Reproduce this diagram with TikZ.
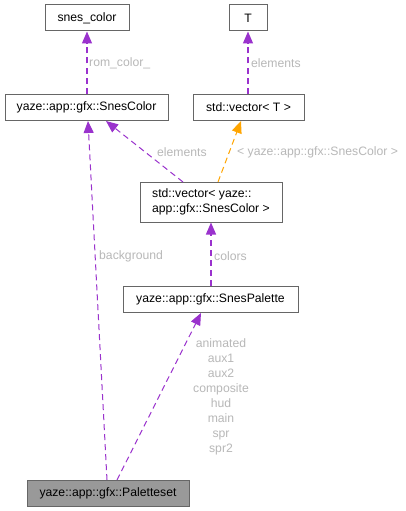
\documentclass[tikz,border=0pt]{standalone}
\usepackage{fontspec}
\setmainfont{Liberation Sans}
\usetikzlibrary{arrows.meta}
\definecolor{edgepurple}{HTML}{9A32CD}
\definecolor{edgeorange}{HTML}{FFA500}
\definecolor{lblgray}{HTML}{B8B8B8}
\definecolor{boxborder}{HTML}{666666}
\definecolor{boxfill}{HTML}{999999}
\begin{document}
\begin{tikzpicture}[x=1pt,y=-1pt,
  cls/.style={draw=boxborder, line width=1pt, fill=white, inner sep=0pt, font=\fontsize{12.2}{14}\selectfont, text=black},
  dep/.style={draw=edgepurple, line width=1pt, dash pattern=on 6pt off 4pt, -{Triangle[length=12pt,width=10pt,fill=edgepurple]}},
  vdep/.style={dep, line width=1.2pt},
  tdep/.style={dep, draw=edgeorange, -{Triangle[length=12pt,width=10pt,fill=edgeorange]}},
  lbl/.style={text=lblgray, font=\fontsize{12.2}{14}\selectfont, inner sep=0pt}
]
\useasboundingbox (0,0) rectangle (406,511);
\fill[white] (0,0) rectangle (406,511);

\node[cls, minimum width=84pt, minimum height=26pt] (snescolor) at (87,18) {snes\_color};
\node[cls, minimum width=38pt, minimum height=26pt] (T) at (248,18) {T};
\node[cls, minimum width=163pt, minimum height=26pt] (SnesColor) at (86.5,107) {yaze::app::gfx::SnesColor};
\node[cls, minimum width=111pt, minimum height=26pt] (vecT) at (248.5,107) {std::vector< T >};
\node[cls, minimum width=142pt, minimum height=40pt, align=left, font=\fontsize{12.2}{15}\selectfont] (vecSC) at (211,202) {std::vector< yaze::\\app::gfx::SnesColor >};
\node[cls, minimum width=175pt, minimum height=26pt] (SnesPalette) at (210.5,299) {yaze::app::gfx::SnesPalette};
\node[cls, fill=boxfill, minimum width=162pt, minimum height=26pt] (Paletteset) at (108,493) {yaze::app::gfx::Paletteset};

\draw[vdep] (snescolor.south |- SnesColor.north) -- (snescolor.south);
\node[lbl, anchor=west] (l1) at (89,63) {rom\_color\_};

\draw[vdep] (T.south |- vecT.north) -- (T.south);
\node[lbl, anchor=west] (l2) at (251,63) {elements};

\coordinate (a1) at (183,182);
\coordinate (a1e) at (106,121);
\draw[dep] (a1) -- (a1e);
\node[lbl, anchor=west] (l3) at (157,152) {elements};

\coordinate (a2) at (218,182);
\coordinate (a2e) at (241,121);
\draw[tdep] (a2) -- (a2e);
\node[lbl, anchor=west] (l4) at (237,152) {< yaze::app::gfx::SnesColor >};

\draw[vdep] (vecSC.south |- SnesPalette.north) -- (vecSC.south);
\node[lbl, anchor=west] (l5) at (214,256) {colors};

\coordinate (b1) at (107,480);
\coordinate (b1e) at (88,121);
\draw[dep] (b1) -- (b1e);
\node[lbl, anchor=west] (l6) at (99,256) {background};

\coordinate (b2) at (117,480);
\coordinate (b2e) at (201,313);
\draw[dep] (b2) -- (b2e);
\node[lbl, align=center, font=\fontsize{12.2}{15}\selectfont] (l7) at (221,397) {animated\\aux1\\aux2\\composite\\hud\\main\\spr\\spr2};
\end{tikzpicture}
\end{document}
